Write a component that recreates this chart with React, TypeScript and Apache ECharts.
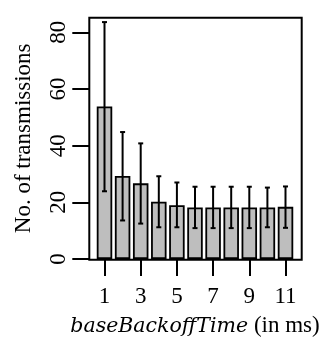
import React, { useEffect, useRef } from "react";
import * as echarts from "echarts";

const categories = ["1", "2", "3", "4", "5", "6", "7", "8", "9", "10", "11"];
const means = [53.8, 29.3, 26.7, 20.2, 19.0, 18.2, 18.2, 18.2, 18.2, 18.2, 18.4];
const upper = [83.6, 44.8, 40.8, 29.2, 27.0, 25.5, 25.5, 25.5, 25.5, 25.2, 25.6];
const lower = [23.9, 13.6, 12.5, 11.2, 11.2, 10.9, 10.9, 10.9, 10.9, 11.2, 11.0];
const yTicks = [0, 20, 40, 60, 80];
const yMax = 85.15;

const FONT = "'Liberation Serif', 'Times New Roman', serif";

export default function App() {
  const ref = useRef<HTMLDivElement>(null);
  useEffect(() => {
    if (!ref.current) return;
    const chart = echarts.init(ref.current, null, { renderer: "svg" });
    const lineStyle = { color: "#000", width: 2 };
    chart.setOption({
      animation: false,
      grid: [
        {
          left: 89.3, top: 17.7, width: 212.4, height: 242,
          show: true, borderColor: "#000", borderWidth: 2, backgroundColor: "transparent",
        },
        { left: 95.45, top: 17.7, width: 199.1, height: 242 },
      ],
      xAxis: [
        { gridIndex: 0, type: "value", show: false, min: 0, max: 1 },
        {
          gridIndex: 1, type: "category", data: categories, boundaryGap: true,
          axisLine: { show: false },
          axisTick: { show: true, interval: 1, alignWithLabel: true, length: 17, lineStyle },
          axisLabel: { interval: 1, margin: 25, color: "#000", fontFamily: FONT, fontSize: 23 },
          splitLine: { show: false },
          name: "{i|baseBackoffTime} (in ms)",
          nameLocation: "middle",
          nameGap: 54,
          nameTextStyle: {
            color: "#000", fontFamily: FONT, fontSize: 23,
            rich: {
              i: { fontFamily: "'DejaVu Serif', serif", fontStyle: "italic", fontSize: 20.5, color: "#000" },
            },
          },
        },
      ],
      yAxis: [
        { gridIndex: 0, type: "value", show: false, min: 0, max: 1 },
        {
          gridIndex: 1, type: "value", min: 0, max: yMax, offset: 6.15,
          axisLine: { show: false },
          axisTick: { show: true, length: 17, customValues: yTicks, lineStyle },
          axisLabel: { customValues: yTicks, rotate: 90, margin: 20, color: "#000", fontFamily: FONT, fontSize: 23 },
          splitLine: { show: false },
          name: "No. of transmissions",
          nameLocation: "middle",
          nameRotate: 90,
          nameGap: 55,
          nameTextStyle: { color: "#000", fontFamily: FONT, fontSize: 23 },
        },
      ],
      series: [
        {
          type: "bar", xAxisIndex: 1, yAxisIndex: 1, data: means, barWidth: 15.5,
          itemStyle: { color: "#bebebe", borderColor: "#000", borderWidth: 1.8 },
        },
        {
          type: "custom", xAxisIndex: 1, yAxisIndex: 1, z: 5,
          encode: { x: 0, y: [1, 2] },
          data: categories.map((_, i) => [i, lower[i], upper[i]]),
          renderItem: (params: any, api: any) => {
            const x = api.value(0);
            const pHi = api.coord([x, api.value(2)]);
            const pLo = api.coord([x, api.value(1)]);
            const cap = 2.5;
            const style = { stroke: "#000", lineWidth: 2 };
            return {
              type: "group",
              children: [
                { type: "line", shape: { x1: pHi[0], y1: pHi[1], x2: pLo[0], y2: pLo[1] }, style },
                { type: "line", shape: { x1: pHi[0] - cap, y1: pHi[1], x2: pHi[0] + cap, y2: pHi[1] }, style },
                { type: "line", shape: { x1: pLo[0] - cap, y1: pLo[1], x2: pLo[0] + cap, y2: pLo[1] }, style },
              ],
            };
          },
        },
      ],
    });
    return () => chart.dispose();
  }, []);
  return <div ref={ref} style={{ position: "fixed", left: 0, top: 0, width: 324, height: 341 }} />;
}
